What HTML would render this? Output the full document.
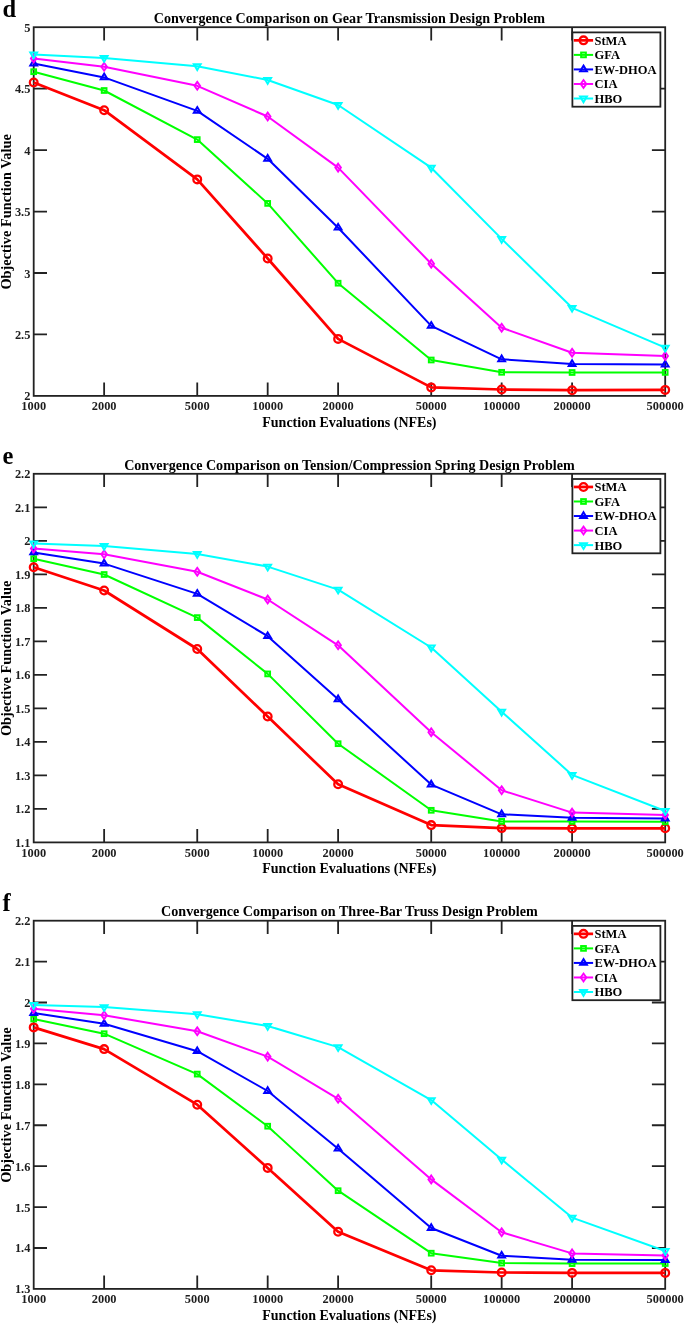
<!DOCTYPE html>
<html><head><meta charset="utf-8"><style>
html,body{margin:0;padding:0;background:#fff;}
body{width:685px;height:1324px;overflow:hidden;}
svg{display:block;will-change:transform;}
text{font-family:"Liberation Serif",serif;font-weight:bold;fill:#000;}
.t{font-size:14.1px;}
.a{font-size:14px;}
.ya{font-size:14.35px;}
.k{font-size:12.4px;fill:#1e1e1e;}
.lg{font-size:12.5px;}
.pl{font-size:24.5px;}
</style></head><body>
<svg width="685" height="1324" viewBox="0 0 685 1324">
<text x="349.4" y="22.90" class="t" text-anchor="middle">Convergence Comparison on Gear Transmission Design Problem</text>
<text x="2.4" y="17.20" class="pl">d</text>
<path d="M104.13 395.90V382.60M104.13 27.20V40.50M197.24 395.90V382.60M197.24 27.20V40.50M267.68 395.90V382.60M267.68 27.20V40.50M338.11 395.90V382.60M338.11 27.20V40.50M431.22 395.90V382.60M431.22 27.20V40.50M501.66 395.90V382.60M501.66 27.20V40.50M572.09 395.90V382.60M572.09 27.20V40.50M33.70 334.45H47.00M665.20 334.45H651.90M33.70 273.00H47.00M665.20 273.00H651.90M33.70 211.55H47.00M665.20 211.55H651.90M33.70 150.10H47.00M665.20 150.10H651.90M33.70 88.65H47.00M665.20 88.65H651.90" stroke="#222222" stroke-width="1.8" fill="none"/>
<text x="33.70" y="410.00" class="k" text-anchor="middle">1000</text>
<text x="104.13" y="410.00" class="k" text-anchor="middle">2000</text>
<text x="197.24" y="410.00" class="k" text-anchor="middle">5000</text>
<text x="267.68" y="410.00" class="k" text-anchor="middle">10000</text>
<text x="338.11" y="410.00" class="k" text-anchor="middle">20000</text>
<text x="431.22" y="410.00" class="k" text-anchor="middle">50000</text>
<text x="501.66" y="410.00" class="k" text-anchor="middle">100000</text>
<text x="572.09" y="410.00" class="k" text-anchor="middle">200000</text>
<text x="665.20" y="410.00" class="k" text-anchor="middle">500000</text>
<text x="30.4" y="400.40" class="k" text-anchor="end">2</text>
<text x="30.4" y="338.95" class="k" text-anchor="end">2.5</text>
<text x="30.4" y="277.50" class="k" text-anchor="end">3</text>
<text x="30.4" y="216.05" class="k" text-anchor="end">3.5</text>
<text x="30.4" y="154.60" class="k" text-anchor="end">4</text>
<text x="30.4" y="93.15" class="k" text-anchor="end">4.5</text>
<text x="30.4" y="31.70" class="k" text-anchor="end">5</text>
<text x="349.4" y="426.50" class="a" text-anchor="middle">Function Evaluations (NFEs)</text>
<text transform="translate(11.3 211.85) rotate(-90)" class="ya" text-anchor="middle">Objective Function Value</text>
<rect x="33.70" y="27.20" width="631.50" height="368.70" fill="none" stroke="#222222" stroke-width="1.8"/>
<polyline points="33.70,82.50 104.13,110.20 197.24,179.40 267.68,258.50 338.11,338.90 431.22,387.40 501.66,389.50 572.09,390.20 665.20,389.90" fill="none" stroke="#ff0000" stroke-width="2.7" stroke-linejoin="round"/>
<circle cx="33.70" cy="82.50" r="3.85" fill="none" stroke="#ff0000" stroke-width="2.3"/>
<circle cx="104.13" cy="110.20" r="3.85" fill="none" stroke="#ff0000" stroke-width="2.3"/>
<circle cx="197.24" cy="179.40" r="3.85" fill="none" stroke="#ff0000" stroke-width="2.3"/>
<circle cx="267.68" cy="258.50" r="3.85" fill="none" stroke="#ff0000" stroke-width="2.3"/>
<circle cx="338.11" cy="338.90" r="3.85" fill="none" stroke="#ff0000" stroke-width="2.3"/>
<circle cx="431.22" cy="387.40" r="3.85" fill="none" stroke="#ff0000" stroke-width="2.3"/>
<circle cx="501.66" cy="389.50" r="3.85" fill="none" stroke="#ff0000" stroke-width="2.3"/>
<circle cx="572.09" cy="390.20" r="3.85" fill="none" stroke="#ff0000" stroke-width="2.3"/>
<circle cx="665.20" cy="389.90" r="3.85" fill="none" stroke="#ff0000" stroke-width="2.3"/>
<polyline points="33.70,71.70 104.13,90.50 197.24,139.60 267.68,203.40 338.11,283.20 431.22,360.00 501.66,372.30 572.09,372.50 665.20,372.40" fill="none" stroke="#00ff00" stroke-width="2.0" stroke-linejoin="round"/>
<rect x="31.35" y="69.35" width="4.70" height="4.70" fill="none" stroke="#00ff00" stroke-width="2.0"/>
<rect x="101.78" y="88.15" width="4.70" height="4.70" fill="none" stroke="#00ff00" stroke-width="2.0"/>
<rect x="194.89" y="137.25" width="4.70" height="4.70" fill="none" stroke="#00ff00" stroke-width="2.0"/>
<rect x="265.33" y="201.05" width="4.70" height="4.70" fill="none" stroke="#00ff00" stroke-width="2.0"/>
<rect x="335.76" y="280.85" width="4.70" height="4.70" fill="none" stroke="#00ff00" stroke-width="2.0"/>
<rect x="428.87" y="357.65" width="4.70" height="4.70" fill="none" stroke="#00ff00" stroke-width="2.0"/>
<rect x="499.31" y="369.95" width="4.70" height="4.70" fill="none" stroke="#00ff00" stroke-width="2.0"/>
<rect x="569.74" y="370.15" width="4.70" height="4.70" fill="none" stroke="#00ff00" stroke-width="2.0"/>
<rect x="662.85" y="370.05" width="4.70" height="4.70" fill="none" stroke="#00ff00" stroke-width="2.0"/>
<polyline points="33.70,63.50 104.13,77.40 197.24,110.90 267.68,158.80 338.11,227.70 431.22,325.90 501.66,359.30 572.09,364.00 665.20,364.60" fill="none" stroke="#0000ff" stroke-width="2.0" stroke-linejoin="round"/>
<path d="M33.70 59.70L37.10 65.40L30.30 65.40Z" fill="none" stroke="#0000ff" stroke-width="2.0" stroke-miterlimit="10"/>
<path d="M104.13 73.60L107.53 79.30L100.73 79.30Z" fill="none" stroke="#0000ff" stroke-width="2.0" stroke-miterlimit="10"/>
<path d="M197.24 107.10L200.64 112.80L193.84 112.80Z" fill="none" stroke="#0000ff" stroke-width="2.0" stroke-miterlimit="10"/>
<path d="M267.68 155.00L271.08 160.70L264.28 160.70Z" fill="none" stroke="#0000ff" stroke-width="2.0" stroke-miterlimit="10"/>
<path d="M338.11 223.90L341.51 229.60L334.71 229.60Z" fill="none" stroke="#0000ff" stroke-width="2.0" stroke-miterlimit="10"/>
<path d="M431.22 322.10L434.62 327.80L427.82 327.80Z" fill="none" stroke="#0000ff" stroke-width="2.0" stroke-miterlimit="10"/>
<path d="M501.66 355.50L505.06 361.20L498.26 361.20Z" fill="none" stroke="#0000ff" stroke-width="2.0" stroke-miterlimit="10"/>
<path d="M572.09 360.20L575.49 365.90L568.69 365.90Z" fill="none" stroke="#0000ff" stroke-width="2.0" stroke-miterlimit="10"/>
<path d="M665.20 360.80L668.60 366.50L661.80 366.50Z" fill="none" stroke="#0000ff" stroke-width="2.0" stroke-miterlimit="10"/>
<polyline points="33.70,58.50 104.13,66.70 197.24,85.80 267.68,116.50 338.11,167.60 431.22,263.70 501.66,327.70 572.09,352.70 665.20,355.90" fill="none" stroke="#ff00ff" stroke-width="2.0" stroke-linejoin="round"/>
<path d="M33.70 54.60L36.50 58.50L33.70 62.40L30.90 58.50Z" fill="none" stroke="#ff00ff" stroke-width="1.9" stroke-miterlimit="10"/>
<path d="M104.13 62.80L106.93 66.70L104.13 70.60L101.33 66.70Z" fill="none" stroke="#ff00ff" stroke-width="1.9" stroke-miterlimit="10"/>
<path d="M197.24 81.90L200.04 85.80L197.24 89.70L194.44 85.80Z" fill="none" stroke="#ff00ff" stroke-width="1.9" stroke-miterlimit="10"/>
<path d="M267.68 112.60L270.48 116.50L267.68 120.40L264.88 116.50Z" fill="none" stroke="#ff00ff" stroke-width="1.9" stroke-miterlimit="10"/>
<path d="M338.11 163.70L340.91 167.60L338.11 171.50L335.31 167.60Z" fill="none" stroke="#ff00ff" stroke-width="1.9" stroke-miterlimit="10"/>
<path d="M431.22 259.80L434.02 263.70L431.22 267.60L428.42 263.70Z" fill="none" stroke="#ff00ff" stroke-width="1.9" stroke-miterlimit="10"/>
<path d="M501.66 323.80L504.46 327.70L501.66 331.60L498.86 327.70Z" fill="none" stroke="#ff00ff" stroke-width="1.9" stroke-miterlimit="10"/>
<path d="M572.09 348.80L574.89 352.70L572.09 356.60L569.29 352.70Z" fill="none" stroke="#ff00ff" stroke-width="1.9" stroke-miterlimit="10"/>
<path d="M665.20 352.00L668.00 355.90L665.20 359.80L662.40 355.90Z" fill="none" stroke="#ff00ff" stroke-width="1.9" stroke-miterlimit="10"/>
<polyline points="33.70,54.50 104.13,57.90 197.24,66.20 267.68,80.00 338.11,105.00 431.22,167.70 501.66,238.90 572.09,307.80 665.20,347.70" fill="none" stroke="#00ffff" stroke-width="2.0" stroke-linejoin="round"/>
<path d="M33.70 58.30L37.10 52.60L30.30 52.60Z" fill="none" stroke="#00ffff" stroke-width="2.0" stroke-miterlimit="10"/>
<path d="M104.13 61.70L107.53 56.00L100.73 56.00Z" fill="none" stroke="#00ffff" stroke-width="2.0" stroke-miterlimit="10"/>
<path d="M197.24 70.00L200.64 64.30L193.84 64.30Z" fill="none" stroke="#00ffff" stroke-width="2.0" stroke-miterlimit="10"/>
<path d="M267.68 83.80L271.08 78.10L264.28 78.10Z" fill="none" stroke="#00ffff" stroke-width="2.0" stroke-miterlimit="10"/>
<path d="M338.11 108.80L341.51 103.10L334.71 103.10Z" fill="none" stroke="#00ffff" stroke-width="2.0" stroke-miterlimit="10"/>
<path d="M431.22 171.50L434.62 165.80L427.82 165.80Z" fill="none" stroke="#00ffff" stroke-width="2.0" stroke-miterlimit="10"/>
<path d="M501.66 242.70L505.06 237.00L498.26 237.00Z" fill="none" stroke="#00ffff" stroke-width="2.0" stroke-miterlimit="10"/>
<path d="M572.09 311.60L575.49 305.90L568.69 305.90Z" fill="none" stroke="#00ffff" stroke-width="2.0" stroke-miterlimit="10"/>
<path d="M665.20 351.50L668.60 345.80L661.80 345.80Z" fill="none" stroke="#00ffff" stroke-width="2.0" stroke-miterlimit="10"/>
<rect x="572.4" y="32.40" width="88.00" height="74.30" fill="#fff" stroke="#222222" stroke-width="1.8"/>
<path d="M573.8 40.35H593.1" stroke="#ff0000" stroke-width="2.7"/>
<circle cx="583.50" cy="40.35" r="3.85" fill="none" stroke="#ff0000" stroke-width="2.3"/>
<text x="594.5" y="44.75" class="lg">StMA</text>
<path d="M573.8 54.89H593.1" stroke="#00ff00" stroke-width="2.0"/>
<rect x="581.15" y="52.54" width="4.70" height="4.70" fill="none" stroke="#00ff00" stroke-width="2.0"/>
<text x="594.5" y="59.29" class="lg">GFA</text>
<path d="M573.8 69.43H593.1" stroke="#0000ff" stroke-width="2.0"/>
<path d="M583.50 65.63L586.90 71.33L580.10 71.33Z" fill="none" stroke="#0000ff" stroke-width="2.0" stroke-miterlimit="10"/>
<text x="594.5" y="73.83" class="lg">EW-DHOA</text>
<path d="M573.8 83.97H593.1" stroke="#ff00ff" stroke-width="2.0"/>
<path d="M583.50 80.07L586.30 83.97L583.50 87.87L580.70 83.97Z" fill="none" stroke="#ff00ff" stroke-width="1.9" stroke-miterlimit="10"/>
<text x="594.5" y="88.37" class="lg">CIA</text>
<path d="M573.8 98.51H593.1" stroke="#00ffff" stroke-width="2.0"/>
<path d="M583.50 102.31L586.90 96.61L580.10 96.61Z" fill="none" stroke="#00ffff" stroke-width="2.0" stroke-miterlimit="10"/>
<text x="594.5" y="102.91" class="lg">HBO</text>
<text x="349.4" y="469.50" class="t" text-anchor="middle">Convergence Comparison on Tension/Compression Spring Design Problem</text>
<text x="2.4" y="463.80" class="pl">e</text>
<path d="M104.13 842.40V829.10M104.13 473.80V487.10M197.24 842.40V829.10M197.24 473.80V487.10M267.68 842.40V829.10M267.68 473.80V487.10M338.11 842.40V829.10M338.11 473.80V487.10M431.22 842.40V829.10M431.22 473.80V487.10M501.66 842.40V829.10M501.66 473.80V487.10M572.09 842.40V829.10M572.09 473.80V487.10M33.70 808.89H47.00M665.20 808.89H651.90M33.70 775.38H47.00M665.20 775.38H651.90M33.70 741.87H47.00M665.20 741.87H651.90M33.70 708.36H47.00M665.20 708.36H651.90M33.70 674.85H47.00M665.20 674.85H651.90M33.70 641.35H47.00M665.20 641.35H651.90M33.70 607.84H47.00M665.20 607.84H651.90M33.70 574.33H47.00M665.20 574.33H651.90M33.70 540.82H47.00M665.20 540.82H651.90M33.70 507.31H47.00M665.20 507.31H651.90" stroke="#222222" stroke-width="1.8" fill="none"/>
<text x="33.70" y="856.50" class="k" text-anchor="middle">1000</text>
<text x="104.13" y="856.50" class="k" text-anchor="middle">2000</text>
<text x="197.24" y="856.50" class="k" text-anchor="middle">5000</text>
<text x="267.68" y="856.50" class="k" text-anchor="middle">10000</text>
<text x="338.11" y="856.50" class="k" text-anchor="middle">20000</text>
<text x="431.22" y="856.50" class="k" text-anchor="middle">50000</text>
<text x="501.66" y="856.50" class="k" text-anchor="middle">100000</text>
<text x="572.09" y="856.50" class="k" text-anchor="middle">200000</text>
<text x="665.20" y="856.50" class="k" text-anchor="middle">500000</text>
<text x="30.4" y="846.90" class="k" text-anchor="end">1.1</text>
<text x="30.4" y="813.39" class="k" text-anchor="end">1.2</text>
<text x="30.4" y="779.88" class="k" text-anchor="end">1.3</text>
<text x="30.4" y="746.37" class="k" text-anchor="end">1.4</text>
<text x="30.4" y="712.86" class="k" text-anchor="end">1.5</text>
<text x="30.4" y="679.35" class="k" text-anchor="end">1.6</text>
<text x="30.4" y="645.85" class="k" text-anchor="end">1.7</text>
<text x="30.4" y="612.34" class="k" text-anchor="end">1.8</text>
<text x="30.4" y="578.83" class="k" text-anchor="end">1.9</text>
<text x="30.4" y="545.32" class="k" text-anchor="end">2</text>
<text x="30.4" y="511.81" class="k" text-anchor="end">2.1</text>
<text x="30.4" y="478.30" class="k" text-anchor="end">2.2</text>
<text x="349.4" y="873.00" class="a" text-anchor="middle">Function Evaluations (NFEs)</text>
<text transform="translate(11.3 658.40) rotate(-90)" class="ya" text-anchor="middle">Objective Function Value</text>
<rect x="33.70" y="473.80" width="631.50" height="368.60" fill="none" stroke="#222222" stroke-width="1.8"/>
<polyline points="33.70,567.30 104.13,590.50 197.24,649.00 267.68,716.50 338.11,784.30 431.22,825.10 501.66,828.10 572.09,828.40 665.20,828.30" fill="none" stroke="#ff0000" stroke-width="2.7" stroke-linejoin="round"/>
<circle cx="33.70" cy="567.30" r="3.85" fill="none" stroke="#ff0000" stroke-width="2.3"/>
<circle cx="104.13" cy="590.50" r="3.85" fill="none" stroke="#ff0000" stroke-width="2.3"/>
<circle cx="197.24" cy="649.00" r="3.85" fill="none" stroke="#ff0000" stroke-width="2.3"/>
<circle cx="267.68" cy="716.50" r="3.85" fill="none" stroke="#ff0000" stroke-width="2.3"/>
<circle cx="338.11" cy="784.30" r="3.85" fill="none" stroke="#ff0000" stroke-width="2.3"/>
<circle cx="431.22" cy="825.10" r="3.85" fill="none" stroke="#ff0000" stroke-width="2.3"/>
<circle cx="501.66" cy="828.10" r="3.85" fill="none" stroke="#ff0000" stroke-width="2.3"/>
<circle cx="572.09" cy="828.40" r="3.85" fill="none" stroke="#ff0000" stroke-width="2.3"/>
<circle cx="665.20" cy="828.30" r="3.85" fill="none" stroke="#ff0000" stroke-width="2.3"/>
<polyline points="33.70,558.70 104.13,574.50 197.24,617.60 267.68,673.90 338.11,743.70 431.22,810.30 501.66,821.40 572.09,821.40 665.20,821.80" fill="none" stroke="#00ff00" stroke-width="2.0" stroke-linejoin="round"/>
<rect x="31.35" y="556.35" width="4.70" height="4.70" fill="none" stroke="#00ff00" stroke-width="2.0"/>
<rect x="101.78" y="572.15" width="4.70" height="4.70" fill="none" stroke="#00ff00" stroke-width="2.0"/>
<rect x="194.89" y="615.25" width="4.70" height="4.70" fill="none" stroke="#00ff00" stroke-width="2.0"/>
<rect x="265.33" y="671.55" width="4.70" height="4.70" fill="none" stroke="#00ff00" stroke-width="2.0"/>
<rect x="335.76" y="741.35" width="4.70" height="4.70" fill="none" stroke="#00ff00" stroke-width="2.0"/>
<rect x="428.87" y="807.95" width="4.70" height="4.70" fill="none" stroke="#00ff00" stroke-width="2.0"/>
<rect x="499.31" y="819.05" width="4.70" height="4.70" fill="none" stroke="#00ff00" stroke-width="2.0"/>
<rect x="569.74" y="819.05" width="4.70" height="4.70" fill="none" stroke="#00ff00" stroke-width="2.0"/>
<rect x="662.85" y="819.45" width="4.70" height="4.70" fill="none" stroke="#00ff00" stroke-width="2.0"/>
<polyline points="33.70,552.40 104.13,563.60 197.24,593.90 267.68,636.20 338.11,699.30 431.22,784.60 501.66,814.30 572.09,817.80 665.20,818.50" fill="none" stroke="#0000ff" stroke-width="2.0" stroke-linejoin="round"/>
<path d="M33.70 548.60L37.10 554.30L30.30 554.30Z" fill="none" stroke="#0000ff" stroke-width="2.0" stroke-miterlimit="10"/>
<path d="M104.13 559.80L107.53 565.50L100.73 565.50Z" fill="none" stroke="#0000ff" stroke-width="2.0" stroke-miterlimit="10"/>
<path d="M197.24 590.10L200.64 595.80L193.84 595.80Z" fill="none" stroke="#0000ff" stroke-width="2.0" stroke-miterlimit="10"/>
<path d="M267.68 632.40L271.08 638.10L264.28 638.10Z" fill="none" stroke="#0000ff" stroke-width="2.0" stroke-miterlimit="10"/>
<path d="M338.11 695.50L341.51 701.20L334.71 701.20Z" fill="none" stroke="#0000ff" stroke-width="2.0" stroke-miterlimit="10"/>
<path d="M431.22 780.80L434.62 786.50L427.82 786.50Z" fill="none" stroke="#0000ff" stroke-width="2.0" stroke-miterlimit="10"/>
<path d="M501.66 810.50L505.06 816.20L498.26 816.20Z" fill="none" stroke="#0000ff" stroke-width="2.0" stroke-miterlimit="10"/>
<path d="M572.09 814.00L575.49 819.70L568.69 819.70Z" fill="none" stroke="#0000ff" stroke-width="2.0" stroke-miterlimit="10"/>
<path d="M665.20 814.70L668.60 820.40L661.80 820.40Z" fill="none" stroke="#0000ff" stroke-width="2.0" stroke-miterlimit="10"/>
<polyline points="33.70,548.50 104.13,554.30 197.24,571.70 267.68,599.50 338.11,645.30 431.22,732.20 501.66,790.30 572.09,812.60 665.20,814.90" fill="none" stroke="#ff00ff" stroke-width="2.0" stroke-linejoin="round"/>
<path d="M33.70 544.60L36.50 548.50L33.70 552.40L30.90 548.50Z" fill="none" stroke="#ff00ff" stroke-width="1.9" stroke-miterlimit="10"/>
<path d="M104.13 550.40L106.93 554.30L104.13 558.20L101.33 554.30Z" fill="none" stroke="#ff00ff" stroke-width="1.9" stroke-miterlimit="10"/>
<path d="M197.24 567.80L200.04 571.70L197.24 575.60L194.44 571.70Z" fill="none" stroke="#ff00ff" stroke-width="1.9" stroke-miterlimit="10"/>
<path d="M267.68 595.60L270.48 599.50L267.68 603.40L264.88 599.50Z" fill="none" stroke="#ff00ff" stroke-width="1.9" stroke-miterlimit="10"/>
<path d="M338.11 641.40L340.91 645.30L338.11 649.20L335.31 645.30Z" fill="none" stroke="#ff00ff" stroke-width="1.9" stroke-miterlimit="10"/>
<path d="M431.22 728.30L434.02 732.20L431.22 736.10L428.42 732.20Z" fill="none" stroke="#ff00ff" stroke-width="1.9" stroke-miterlimit="10"/>
<path d="M501.66 786.40L504.46 790.30L501.66 794.20L498.86 790.30Z" fill="none" stroke="#ff00ff" stroke-width="1.9" stroke-miterlimit="10"/>
<path d="M572.09 808.70L574.89 812.60L572.09 816.50L569.29 812.60Z" fill="none" stroke="#ff00ff" stroke-width="1.9" stroke-miterlimit="10"/>
<path d="M665.20 811.00L668.00 814.90L665.20 818.80L662.40 814.90Z" fill="none" stroke="#ff00ff" stroke-width="1.9" stroke-miterlimit="10"/>
<polyline points="33.70,543.40 104.13,545.90 197.24,553.90 267.68,566.60 338.11,589.60 431.22,647.50 501.66,711.70 572.09,774.90 665.20,811.00" fill="none" stroke="#00ffff" stroke-width="2.0" stroke-linejoin="round"/>
<path d="M33.70 547.20L37.10 541.50L30.30 541.50Z" fill="none" stroke="#00ffff" stroke-width="2.0" stroke-miterlimit="10"/>
<path d="M104.13 549.70L107.53 544.00L100.73 544.00Z" fill="none" stroke="#00ffff" stroke-width="2.0" stroke-miterlimit="10"/>
<path d="M197.24 557.70L200.64 552.00L193.84 552.00Z" fill="none" stroke="#00ffff" stroke-width="2.0" stroke-miterlimit="10"/>
<path d="M267.68 570.40L271.08 564.70L264.28 564.70Z" fill="none" stroke="#00ffff" stroke-width="2.0" stroke-miterlimit="10"/>
<path d="M338.11 593.40L341.51 587.70L334.71 587.70Z" fill="none" stroke="#00ffff" stroke-width="2.0" stroke-miterlimit="10"/>
<path d="M431.22 651.30L434.62 645.60L427.82 645.60Z" fill="none" stroke="#00ffff" stroke-width="2.0" stroke-miterlimit="10"/>
<path d="M501.66 715.50L505.06 709.80L498.26 709.80Z" fill="none" stroke="#00ffff" stroke-width="2.0" stroke-miterlimit="10"/>
<path d="M572.09 778.70L575.49 773.00L568.69 773.00Z" fill="none" stroke="#00ffff" stroke-width="2.0" stroke-miterlimit="10"/>
<path d="M665.20 814.80L668.60 809.10L661.80 809.10Z" fill="none" stroke="#00ffff" stroke-width="2.0" stroke-miterlimit="10"/>
<rect x="572.4" y="479.00" width="88.00" height="74.30" fill="#fff" stroke="#222222" stroke-width="1.8"/>
<path d="M573.8 486.95H593.1" stroke="#ff0000" stroke-width="2.7"/>
<circle cx="583.50" cy="486.95" r="3.85" fill="none" stroke="#ff0000" stroke-width="2.3"/>
<text x="594.5" y="491.35" class="lg">StMA</text>
<path d="M573.8 501.49H593.1" stroke="#00ff00" stroke-width="2.0"/>
<rect x="581.15" y="499.14" width="4.70" height="4.70" fill="none" stroke="#00ff00" stroke-width="2.0"/>
<text x="594.5" y="505.89" class="lg">GFA</text>
<path d="M573.8 516.03H593.1" stroke="#0000ff" stroke-width="2.0"/>
<path d="M583.50 512.23L586.90 517.93L580.10 517.93Z" fill="none" stroke="#0000ff" stroke-width="2.0" stroke-miterlimit="10"/>
<text x="594.5" y="520.43" class="lg">EW-DHOA</text>
<path d="M573.8 530.57H593.1" stroke="#ff00ff" stroke-width="2.0"/>
<path d="M583.50 526.67L586.30 530.57L583.50 534.47L580.70 530.57Z" fill="none" stroke="#ff00ff" stroke-width="1.9" stroke-miterlimit="10"/>
<text x="594.5" y="534.97" class="lg">CIA</text>
<path d="M573.8 545.11H593.1" stroke="#00ffff" stroke-width="2.0"/>
<path d="M583.50 548.91L586.90 543.21L580.10 543.21Z" fill="none" stroke="#00ffff" stroke-width="2.0" stroke-miterlimit="10"/>
<text x="594.5" y="549.51" class="lg">HBO</text>
<text x="349.4" y="916.40" class="t" text-anchor="middle">Convergence Comparison on Three-Bar Truss Design Problem</text>
<text x="2.4" y="910.70" class="pl">f</text>
<path d="M104.13 1288.90V1275.60M104.13 920.70V934.00M197.24 1288.90V1275.60M197.24 920.70V934.00M267.68 1288.90V1275.60M267.68 920.70V934.00M338.11 1288.90V1275.60M338.11 920.70V934.00M431.22 1288.90V1275.60M431.22 920.70V934.00M501.66 1288.90V1275.60M501.66 920.70V934.00M572.09 1288.90V1275.60M572.09 920.70V934.00M33.70 1247.99H47.00M665.20 1247.99H651.90M33.70 1207.08H47.00M665.20 1207.08H651.90M33.70 1166.17H47.00M665.20 1166.17H651.90M33.70 1125.26H47.00M665.20 1125.26H651.90M33.70 1084.34H47.00M665.20 1084.34H651.90M33.70 1043.43H47.00M665.20 1043.43H651.90M33.70 1002.52H47.00M665.20 1002.52H651.90M33.70 961.61H47.00M665.20 961.61H651.90" stroke="#222222" stroke-width="1.8" fill="none"/>
<text x="33.70" y="1303.00" class="k" text-anchor="middle">1000</text>
<text x="104.13" y="1303.00" class="k" text-anchor="middle">2000</text>
<text x="197.24" y="1303.00" class="k" text-anchor="middle">5000</text>
<text x="267.68" y="1303.00" class="k" text-anchor="middle">10000</text>
<text x="338.11" y="1303.00" class="k" text-anchor="middle">20000</text>
<text x="431.22" y="1303.00" class="k" text-anchor="middle">50000</text>
<text x="501.66" y="1303.00" class="k" text-anchor="middle">100000</text>
<text x="572.09" y="1303.00" class="k" text-anchor="middle">200000</text>
<text x="665.20" y="1303.00" class="k" text-anchor="middle">500000</text>
<text x="30.4" y="1293.40" class="k" text-anchor="end">1.3</text>
<text x="30.4" y="1252.49" class="k" text-anchor="end">1.4</text>
<text x="30.4" y="1211.58" class="k" text-anchor="end">1.5</text>
<text x="30.4" y="1170.67" class="k" text-anchor="end">1.6</text>
<text x="30.4" y="1129.76" class="k" text-anchor="end">1.7</text>
<text x="30.4" y="1088.84" class="k" text-anchor="end">1.8</text>
<text x="30.4" y="1047.93" class="k" text-anchor="end">1.9</text>
<text x="30.4" y="1007.02" class="k" text-anchor="end">2</text>
<text x="30.4" y="966.11" class="k" text-anchor="end">2.1</text>
<text x="30.4" y="925.20" class="k" text-anchor="end">2.2</text>
<text x="349.4" y="1319.50" class="a" text-anchor="middle">Function Evaluations (NFEs)</text>
<text transform="translate(11.3 1105.10) rotate(-90)" class="ya" text-anchor="middle">Objective Function Value</text>
<rect x="33.70" y="920.70" width="631.50" height="368.20" fill="none" stroke="#222222" stroke-width="1.8"/>
<polyline points="33.70,1027.40 104.13,1049.10 197.24,1104.70 267.68,1167.90 338.11,1231.80 431.22,1270.30 501.66,1272.50 572.09,1272.90 665.20,1272.90" fill="none" stroke="#ff0000" stroke-width="2.7" stroke-linejoin="round"/>
<circle cx="33.70" cy="1027.40" r="3.85" fill="none" stroke="#ff0000" stroke-width="2.3"/>
<circle cx="104.13" cy="1049.10" r="3.85" fill="none" stroke="#ff0000" stroke-width="2.3"/>
<circle cx="197.24" cy="1104.70" r="3.85" fill="none" stroke="#ff0000" stroke-width="2.3"/>
<circle cx="267.68" cy="1167.90" r="3.85" fill="none" stroke="#ff0000" stroke-width="2.3"/>
<circle cx="338.11" cy="1231.80" r="3.85" fill="none" stroke="#ff0000" stroke-width="2.3"/>
<circle cx="431.22" cy="1270.30" r="3.85" fill="none" stroke="#ff0000" stroke-width="2.3"/>
<circle cx="501.66" cy="1272.50" r="3.85" fill="none" stroke="#ff0000" stroke-width="2.3"/>
<circle cx="572.09" cy="1272.90" r="3.85" fill="none" stroke="#ff0000" stroke-width="2.3"/>
<circle cx="665.20" cy="1272.90" r="3.85" fill="none" stroke="#ff0000" stroke-width="2.3"/>
<polyline points="33.70,1019.00 104.13,1033.70 197.24,1074.10 267.68,1126.20 338.11,1190.70 431.22,1253.20 501.66,1263.10 572.09,1263.60 665.20,1263.50" fill="none" stroke="#00ff00" stroke-width="2.0" stroke-linejoin="round"/>
<rect x="31.35" y="1016.65" width="4.70" height="4.70" fill="none" stroke="#00ff00" stroke-width="2.0"/>
<rect x="101.78" y="1031.35" width="4.70" height="4.70" fill="none" stroke="#00ff00" stroke-width="2.0"/>
<rect x="194.89" y="1071.75" width="4.70" height="4.70" fill="none" stroke="#00ff00" stroke-width="2.0"/>
<rect x="265.33" y="1123.85" width="4.70" height="4.70" fill="none" stroke="#00ff00" stroke-width="2.0"/>
<rect x="335.76" y="1188.35" width="4.70" height="4.70" fill="none" stroke="#00ff00" stroke-width="2.0"/>
<rect x="428.87" y="1250.85" width="4.70" height="4.70" fill="none" stroke="#00ff00" stroke-width="2.0"/>
<rect x="499.31" y="1260.75" width="4.70" height="4.70" fill="none" stroke="#00ff00" stroke-width="2.0"/>
<rect x="569.74" y="1261.25" width="4.70" height="4.70" fill="none" stroke="#00ff00" stroke-width="2.0"/>
<rect x="662.85" y="1261.15" width="4.70" height="4.70" fill="none" stroke="#00ff00" stroke-width="2.0"/>
<polyline points="33.70,1013.00 104.13,1023.80 197.24,1051.20 267.68,1091.00 338.11,1148.70 431.22,1228.00 501.66,1255.70 572.09,1259.80 665.20,1260.00" fill="none" stroke="#0000ff" stroke-width="2.0" stroke-linejoin="round"/>
<path d="M33.70 1009.20L37.10 1014.90L30.30 1014.90Z" fill="none" stroke="#0000ff" stroke-width="2.0" stroke-miterlimit="10"/>
<path d="M104.13 1020.00L107.53 1025.70L100.73 1025.70Z" fill="none" stroke="#0000ff" stroke-width="2.0" stroke-miterlimit="10"/>
<path d="M197.24 1047.40L200.64 1053.10L193.84 1053.10Z" fill="none" stroke="#0000ff" stroke-width="2.0" stroke-miterlimit="10"/>
<path d="M267.68 1087.20L271.08 1092.90L264.28 1092.90Z" fill="none" stroke="#0000ff" stroke-width="2.0" stroke-miterlimit="10"/>
<path d="M338.11 1144.90L341.51 1150.60L334.71 1150.60Z" fill="none" stroke="#0000ff" stroke-width="2.0" stroke-miterlimit="10"/>
<path d="M431.22 1224.20L434.62 1229.90L427.82 1229.90Z" fill="none" stroke="#0000ff" stroke-width="2.0" stroke-miterlimit="10"/>
<path d="M501.66 1251.90L505.06 1257.60L498.26 1257.60Z" fill="none" stroke="#0000ff" stroke-width="2.0" stroke-miterlimit="10"/>
<path d="M572.09 1256.00L575.49 1261.70L568.69 1261.70Z" fill="none" stroke="#0000ff" stroke-width="2.0" stroke-miterlimit="10"/>
<path d="M665.20 1256.20L668.60 1261.90L661.80 1261.90Z" fill="none" stroke="#0000ff" stroke-width="2.0" stroke-miterlimit="10"/>
<polyline points="33.70,1008.70 104.13,1015.20 197.24,1031.30 267.68,1056.60 338.11,1098.80 431.22,1179.40 501.66,1232.30 572.09,1253.40 665.20,1255.40" fill="none" stroke="#ff00ff" stroke-width="2.0" stroke-linejoin="round"/>
<path d="M33.70 1004.80L36.50 1008.70L33.70 1012.60L30.90 1008.70Z" fill="none" stroke="#ff00ff" stroke-width="1.9" stroke-miterlimit="10"/>
<path d="M104.13 1011.30L106.93 1015.20L104.13 1019.10L101.33 1015.20Z" fill="none" stroke="#ff00ff" stroke-width="1.9" stroke-miterlimit="10"/>
<path d="M197.24 1027.40L200.04 1031.30L197.24 1035.20L194.44 1031.30Z" fill="none" stroke="#ff00ff" stroke-width="1.9" stroke-miterlimit="10"/>
<path d="M267.68 1052.70L270.48 1056.60L267.68 1060.50L264.88 1056.60Z" fill="none" stroke="#ff00ff" stroke-width="1.9" stroke-miterlimit="10"/>
<path d="M338.11 1094.90L340.91 1098.80L338.11 1102.70L335.31 1098.80Z" fill="none" stroke="#ff00ff" stroke-width="1.9" stroke-miterlimit="10"/>
<path d="M431.22 1175.50L434.02 1179.40L431.22 1183.30L428.42 1179.40Z" fill="none" stroke="#ff00ff" stroke-width="1.9" stroke-miterlimit="10"/>
<path d="M501.66 1228.40L504.46 1232.30L501.66 1236.20L498.86 1232.30Z" fill="none" stroke="#ff00ff" stroke-width="1.9" stroke-miterlimit="10"/>
<path d="M572.09 1249.50L574.89 1253.40L572.09 1257.30L569.29 1253.40Z" fill="none" stroke="#ff00ff" stroke-width="1.9" stroke-miterlimit="10"/>
<path d="M665.20 1251.50L668.00 1255.40L665.20 1259.30L662.40 1255.40Z" fill="none" stroke="#ff00ff" stroke-width="1.9" stroke-miterlimit="10"/>
<polyline points="33.70,1004.90 104.13,1007.10 197.24,1014.20 267.68,1026.00 338.11,1047.10 431.22,1100.10 501.66,1159.60 572.09,1217.60 665.20,1251.00" fill="none" stroke="#00ffff" stroke-width="2.0" stroke-linejoin="round"/>
<path d="M33.70 1008.70L37.10 1003.00L30.30 1003.00Z" fill="none" stroke="#00ffff" stroke-width="2.0" stroke-miterlimit="10"/>
<path d="M104.13 1010.90L107.53 1005.20L100.73 1005.20Z" fill="none" stroke="#00ffff" stroke-width="2.0" stroke-miterlimit="10"/>
<path d="M197.24 1018.00L200.64 1012.30L193.84 1012.30Z" fill="none" stroke="#00ffff" stroke-width="2.0" stroke-miterlimit="10"/>
<path d="M267.68 1029.80L271.08 1024.10L264.28 1024.10Z" fill="none" stroke="#00ffff" stroke-width="2.0" stroke-miterlimit="10"/>
<path d="M338.11 1050.90L341.51 1045.20L334.71 1045.20Z" fill="none" stroke="#00ffff" stroke-width="2.0" stroke-miterlimit="10"/>
<path d="M431.22 1103.90L434.62 1098.20L427.82 1098.20Z" fill="none" stroke="#00ffff" stroke-width="2.0" stroke-miterlimit="10"/>
<path d="M501.66 1163.40L505.06 1157.70L498.26 1157.70Z" fill="none" stroke="#00ffff" stroke-width="2.0" stroke-miterlimit="10"/>
<path d="M572.09 1221.40L575.49 1215.70L568.69 1215.70Z" fill="none" stroke="#00ffff" stroke-width="2.0" stroke-miterlimit="10"/>
<path d="M665.20 1254.80L668.60 1249.10L661.80 1249.10Z" fill="none" stroke="#00ffff" stroke-width="2.0" stroke-miterlimit="10"/>
<rect x="572.4" y="925.90" width="88.00" height="74.30" fill="#fff" stroke="#222222" stroke-width="1.8"/>
<path d="M573.8 933.85H593.1" stroke="#ff0000" stroke-width="2.7"/>
<circle cx="583.50" cy="933.85" r="3.85" fill="none" stroke="#ff0000" stroke-width="2.3"/>
<text x="594.5" y="938.25" class="lg">StMA</text>
<path d="M573.8 948.39H593.1" stroke="#00ff00" stroke-width="2.0"/>
<rect x="581.15" y="946.04" width="4.70" height="4.70" fill="none" stroke="#00ff00" stroke-width="2.0"/>
<text x="594.5" y="952.79" class="lg">GFA</text>
<path d="M573.8 962.93H593.1" stroke="#0000ff" stroke-width="2.0"/>
<path d="M583.50 959.13L586.90 964.83L580.10 964.83Z" fill="none" stroke="#0000ff" stroke-width="2.0" stroke-miterlimit="10"/>
<text x="594.5" y="967.33" class="lg">EW-DHOA</text>
<path d="M573.8 977.47H593.1" stroke="#ff00ff" stroke-width="2.0"/>
<path d="M583.50 973.57L586.30 977.47L583.50 981.37L580.70 977.47Z" fill="none" stroke="#ff00ff" stroke-width="1.9" stroke-miterlimit="10"/>
<text x="594.5" y="981.87" class="lg">CIA</text>
<path d="M573.8 992.01H593.1" stroke="#00ffff" stroke-width="2.0"/>
<path d="M583.50 995.81L586.90 990.11L580.10 990.11Z" fill="none" stroke="#00ffff" stroke-width="2.0" stroke-miterlimit="10"/>
<text x="594.5" y="996.41" class="lg">HBO</text>
</svg>
</body></html>
